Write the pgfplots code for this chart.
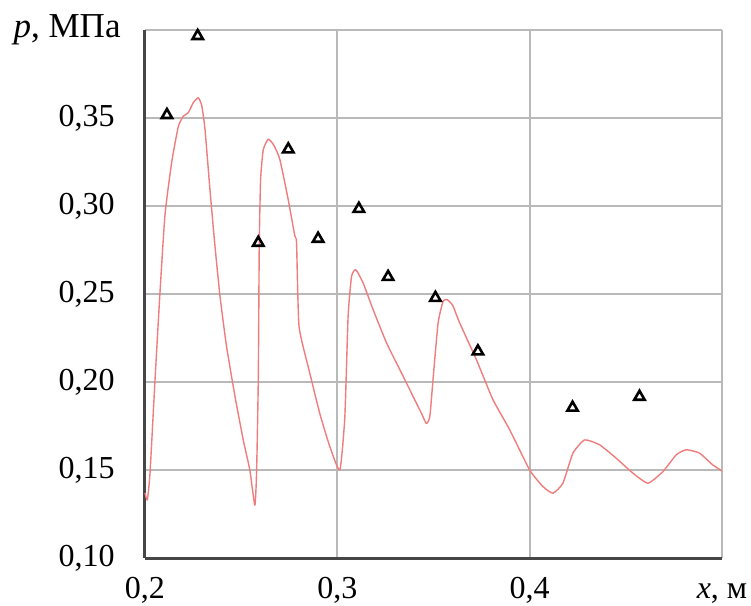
\documentclass[border=0pt]{standalone}
\usepackage{pgfplots}
\pgfplotsset{compat=1.18}
\usepackage{fontspec}
\setmainfont{Liberation Serif}
\definecolor{curvered}{RGB}{240,125,125}
\definecolor{gridgray}{RGB}{185,185,185}
\definecolor{axisdark}{RGB}{70,70,70}
\begin{document}
\begin{tikzpicture}
\fontsize{16}{19}\selectfont
\path (-72.5pt,-24pt) rectangle (303pt,279pt);
\begin{axis}[
  at={(0,0)}, anchor=south west,
  scale only axis, width=288.5pt, height=264pt,
  xmin=0.2, xmax=0.5, ymin=0.10, ymax=0.40,
  axis x line*=bottom, axis y line*=left,
  axis line style={axisdark, line width=1.5pt},
  xtick={0.2,0.3,0.4,0.5},
  xticklabels={{0,2},{0,3},{0,4},{\textit{x}, м}},
  ytick={0.10,0.15,0.20,0.25,0.30,0.35,0.40},
  yticklabels={{0,10},{0,15},{0,20},{0,25},{0,30},{0,35},{\fontsize{17.5}{20}\selectfont\textit{p}, МПа\kern-3pt}},
  major tick length=0pt,
  grid=major,
  major grid style={gridgray, line width=1pt},
  xticklabel style={anchor=base, inner sep=0pt, yshift=-20pt, font=\fontsize{16}{19}\selectfont},
  yticklabel style={anchor=east, inner sep=0pt, xshift=-15pt, font=\fontsize{16}{19}\selectfont},
  clip=false,
]
\addplot[curvered, line width=0.7pt, line join=round, smooth, tension=0.3] coordinates {
(0.2000,0.137) (0.2012,0.133) (0.2026,0.148) (0.2052,0.201) (0.2078,0.251)
(0.2104,0.295) (0.2139,0.325) (0.2173,0.345) (0.2199,0.351) (0.2225,0.353)
(0.2251,0.3587) (0.2277,0.3615) (0.2295,0.357) (0.2312,0.3436) (0.2338,0.309)
(0.2364,0.277) (0.2390,0.2487) (0.2424,0.2202) (0.2468,0.1918) (0.2511,0.167)
(0.2545,0.150) (0.2571,0.130) (0.2580,0.148) (0.2589,0.201) (0.2594,0.277)
(0.2601,0.315) (0.2615,0.332) (0.2641,0.338) (0.2670,0.3345) (0.2701,0.3265) (0.2744,0.304)
(0.2779,0.283) (0.2788,0.279) (0.2801,0.2316) (0.2857,0.205) (0.2909,0.182)
(0.2961,0.1633) (0.3013,0.150) (0.3039,0.180) (0.3056,0.2373) (0.3074,0.260)
(0.3096,0.2638) (0.3134,0.2563) (0.3186,0.2411) (0.3256,0.2222) (0.3325,0.207)
(0.3394,0.1918) (0.3437,0.1823) (0.3463,0.1764) (0.3481,0.1804) (0.3498,0.2020)
(0.3524,0.2336) (0.3550,0.2459) (0.3571,0.2468) (0.3600,0.2435) (0.3636,0.2336)
(0.3723,0.2127) (0.3809,0.190) (0.3896,0.1729) (0.4000,0.150) (0.4069,0.1406)
(0.4121,0.1368) (0.4173,0.1425) (0.4225,0.1596) (0.4286,0.1671) (0.4364,0.1643)
(0.4450,0.1567) (0.4537,0.1482) (0.4615,0.1425) (0.4693,0.1491) (0.4762,0.1586)
(0.4814,0.1615) (0.4883,0.1596) (0.4952,0.1529) (0.5000,0.1495)
};
\addplot[only marks, mark=triangle, mark size=3pt, mark options={black, line width=1.3pt}] coordinates {
(0.2114,0.3517) (0.2274,0.3966) (0.2589,0.2791) (0.2745,0.3322) (0.2900,0.2814)
(0.3112,0.2984) (0.3264,0.2597) (0.3510,0.2478) (0.3731,0.2174) (0.4223,0.1854)
(0.4571,0.1916)
};
\end{axis}
\end{tikzpicture}
\end{document}
